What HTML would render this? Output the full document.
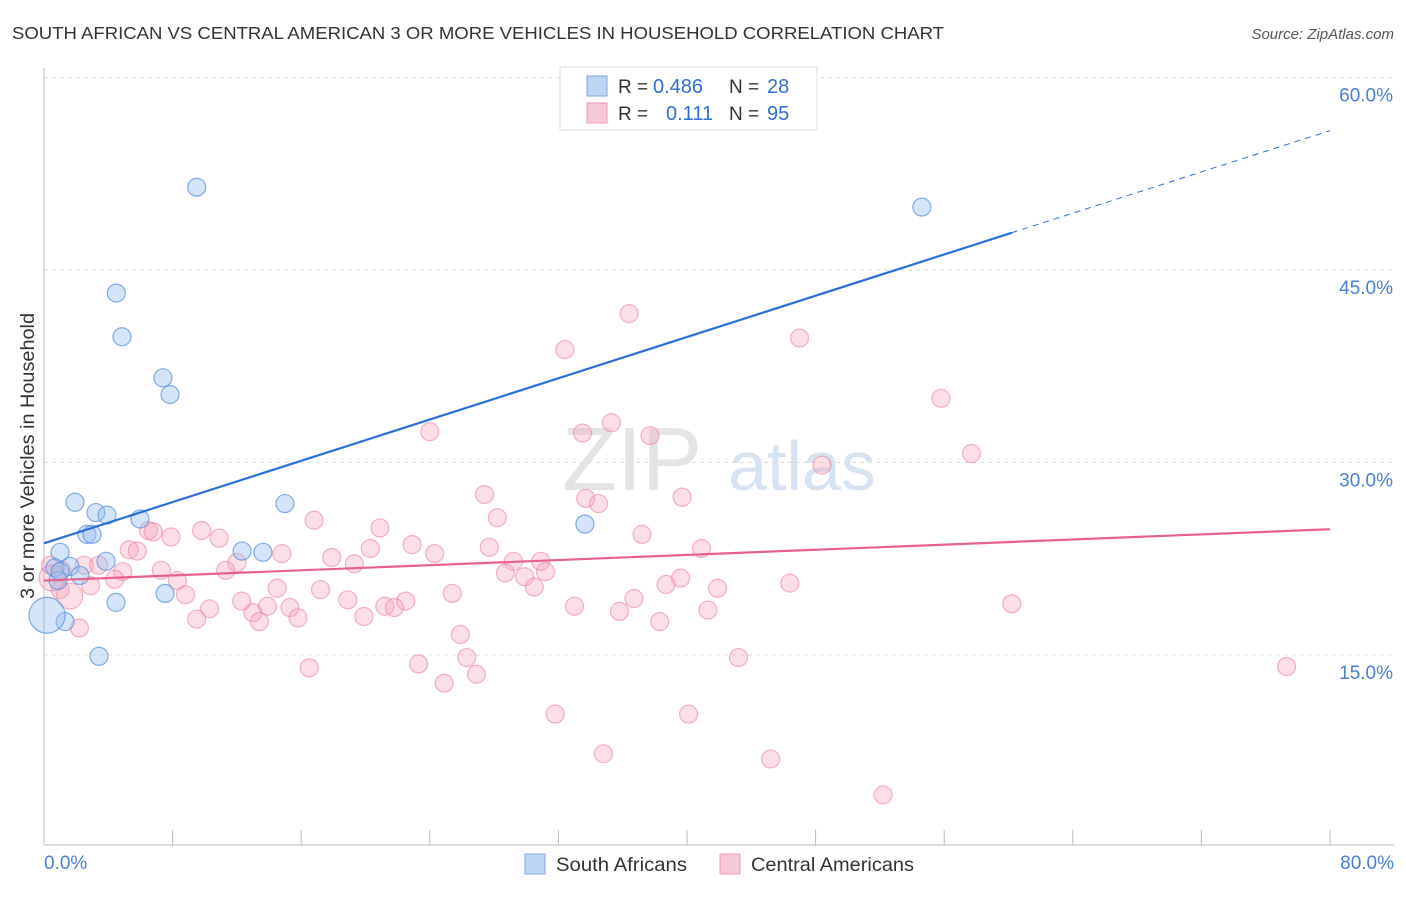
<!DOCTYPE html>
<html><head><meta charset="utf-8"><style>
body{margin:0;background:#fff;font-family:"Liberation Sans",sans-serif}
svg text{font-family:"Liberation Sans",sans-serif}
</style></head><body>
<svg id="chart" width="1406" height="892" xmlns="http://www.w3.org/2000/svg">
<text x="12" y="39" font-size="17.5" fill="#333" textLength="932" lengthAdjust="spacingAndGlyphs">SOUTH AFRICAN VS CENTRAL AMERICAN 3 OR MORE VEHICLES IN HOUSEHOLD CORRELATION CHART</text>
<text x="1394" y="39" font-size="15" fill="#555" font-style="italic" text-anchor="end">Source: ZipAtlas.com</text>
<text x="632" y="490" font-size="90" fill="#e4e4e4" font-family="Liberation Serif" text-anchor="middle">ZIP</text>
<text x="802" y="490" font-size="70" fill="#d6e3f3" text-anchor="middle">atlas</text>
<g id="grid"></g>
<g id="axes"></g>
<g id="pink"></g>
<g id="blue"></g>
<g id="lines"></g>
<text transform="translate(34,456) rotate(-90)" font-size="19" fill="#333" text-anchor="middle" textLength="286" lengthAdjust="spacingAndGlyphs">3 or more Vehicles in Household</text>
<text x="44" y="869" font-size="19" fill="#4a7fd0">0.0%</text>
<text x="1394" y="869" font-size="19" fill="#4a7fd0" text-anchor="end">80.0%</text>
<g>
<rect x="560" y="67" width="257" height="63" fill="#fff" stroke="#ddd"/>
<rect x="587" y="76" width="20" height="20" fill="#bcd5f4" stroke="#7aa6e0"/>
<rect x="587" y="103" width="20" height="20" fill="#f9c8d6" stroke="#ee9ab3"/>
<text x="618" y="93" font-size="19" fill="#333">R =</text>
<text x="653" y="93" font-size="20" fill="#2f6fd6">0.486</text>
<text x="729" y="93" font-size="19" fill="#333">N =</text>
<text x="767" y="93" font-size="20" fill="#2f6fd6">28</text>
<text x="618" y="120" font-size="19" fill="#333">R =</text>
<text x="666" y="120" font-size="20" fill="#2f6fd6">0.111</text>
<text x="729" y="120" font-size="19" fill="#333">N =</text>
<text x="767" y="120" font-size="20" fill="#2f6fd6">95</text>
</g>
<g>
<rect x="525" y="854" width="20" height="20" fill="#bcd5f4" stroke="#7aa6e0"/>
<text x="556" y="871" font-size="19.5" fill="#333" textLength="131" lengthAdjust="spacingAndGlyphs">South Africans</text>
<rect x="720" y="854" width="20" height="20" fill="#f9c8d6" stroke="#ee9ab3"/>
<text x="751" y="871" font-size="19.5" fill="#333" textLength="163" lengthAdjust="spacingAndGlyphs">Central Americans</text>
</g>
</svg>
<script>
const yTicks=[15,30,45,60];
const yTickLabels=["15.0%","30.0%","45.0%","60.0%"];
const xTicks=[0,8,16,24,32,40,48,56,64,72,80];
const blueX=[9.5,4.5,4.85,7.4,7.84,1.93,3.23,3.92,5.97,2.67,2.99,14.99,12.32,13.62,1.0,3.86,1.62,0.68,0.87,2.24,7.53,4.48,1.31,3.42,33.65,54.61,0.19,1.0];
const blueY=[51.45,43.2,39.8,36.6,35.3,26.9,26.1,25.9,25.6,24.4,24.4,26.8,23.1,23.0,23.0,22.3,21.9,21.8,20.8,21.2,19.8,19.1,17.6,14.9,25.2,49.9,18.1,21.5];
const pinkX=[43.4,36.4,32.4,47.0,55.8,24.0,33.5,35.3,37.7,57.7,48.4,27.4,39.7,33.7,34.5,28.2,16.8,20.9,6.5,6.8,9.8,10.9,37.2,7.9,22.9,27.7,20.3,5.3,5.8,40.9,14.8,24.3,12.0,17.9,19.3,29.2,30.9,2.5,3.4,4.9,31.2,28.7,29.9,7.3,11.3,4.4,8.3,38.7,39.6,46.4,14.5,17.2,30.5,41.9,8.8,25.4,36.7,2.9,12.3,13.9,15.3,18.9,22.5,21.2,21.8,10.3,13.0,33.0,35.8,41.3,60.2,9.5,15.8,13.4,19.9,38.3,2.2,25.9,26.3,43.2,16.5,23.3,26.9,24.9,77.3,31.8,40.1,34.8,45.2,52.2,0.4,1.1,1.0,1.6,0.5];
const pinkY=[57.8,41.6,38.8,39.7,35.0,32.4,32.3,33.1,32.1,30.7,29.8,27.5,27.3,27.2,26.8,25.7,25.5,24.9,24.7,24.6,24.7,24.1,24.4,24.2,23.6,23.4,23.3,23.2,23.1,23.3,22.9,22.9,22.2,22.6,22.1,22.3,22.3,22.0,22.0,21.5,21.5,21.4,21.1,21.6,21.6,20.9,20.8,20.5,21.0,20.6,20.2,20.1,20.3,20.2,19.7,19.8,19.4,20.4,19.2,18.8,18.7,19.3,19.2,18.8,18.7,18.6,18.3,18.8,18.4,18.5,19.0,17.8,17.9,17.6,18.0,17.6,17.1,16.6,14.8,14.8,14.0,14.3,13.5,12.8,14.1,10.4,10.4,7.3,6.9,4.1,22.0,21.6,20.1,19.6,21.0];
const blueTrend=[23.7,0.402];
const pinkTrend=[20.8,0.05];
const X0=44,X1=1330,Y0=847.5,PX=192.5/15;
const sx=v=>X0+v/80*(X1-X0);
const sy=v=>Y0-v*PX;
const NS="http://www.w3.org/2000/svg";
function mk(tag,attrs,parent){const e=document.createElementNS(NS,tag);for(const k in attrs)e.setAttribute(k,attrs[k]);parent.appendChild(e);return e;}
const grid=document.getElementById('grid'),axes=document.getElementById('axes');
yTicks.forEach((t,i)=>{
 const l=mk('line',{x1:44,x2:1394,y1:sy(t),y2:sy(t),stroke:'#ddd','stroke-dasharray':'4,4'},grid);
 
 
 const tx=mk('text',{x:1393,y:sy(t)+24,'font-size':19,fill:'#4a7fd0','text-anchor':'end'},grid);
 tx.textContent=yTickLabels[i];
 
 
});
const ax=mk('line',{x1:44,x2:1394,y1:845,y2:845,stroke:'#bbb'},axes);


const ay=mk('line',{x1:44,x2:44,y1:68,y2:845,stroke:'#bbb'},axes);


xTicks.forEach(t=>{
 const l=mk('line',{x1:sx(t),x2:sx(t),y1:830,y2:845,stroke:'#bbb'},axes);
 
 
});
const pg=document.getElementById('pink'),bg=document.getElementById('blue');
pinkX.forEach((x,i)=>{
 const r=(i>=pinkX.length-2)?13:9;
 const c=mk('circle',{cx:sx(x),cy:sy(pinkY[i]),r:r,fill:'rgba(245,160,185,0.35)',stroke:'rgba(235,130,160,0.6)','stroke-width':1.2},pg);
 
 
});
blueX.forEach((x,i)=>{
 const r=(i==26)?18:9;
 const c=mk('circle',{cx:sx(x),cy:sy(blueY[i]),r:r,fill:'rgba(150,190,240,0.4)',stroke:'rgba(80,140,220,0.7)','stroke-width':1.2},bg);
 
 
});
const lg=document.getElementById('lines');
const bt=v=>blueTrend[0]+blueTrend[1]*v;
const b1=mk('line',{x1:sx(0),y1:sy(bt(0)),x2:sx(60.2),y2:sy(bt(60.2)),stroke:'#2a6fd8','stroke-width':2.2},lg);


const b2=mk('line',{x1:sx(60.2),y1:sy(bt(60.2)),x2:sx(80),y2:sy(bt(80)),stroke:'#2a6fd8','stroke-width':1,'stroke-dasharray':'6,5'},lg);


const pt=v=>pinkTrend[0]+pinkTrend[1]*v;
const p1=mk('line',{x1:sx(0),y1:sy(pt(0)),x2:sx(80),y2:sy(pt(80)),stroke:'#e8608e','stroke-width':2.2},lg);


</script>
</body></html>
